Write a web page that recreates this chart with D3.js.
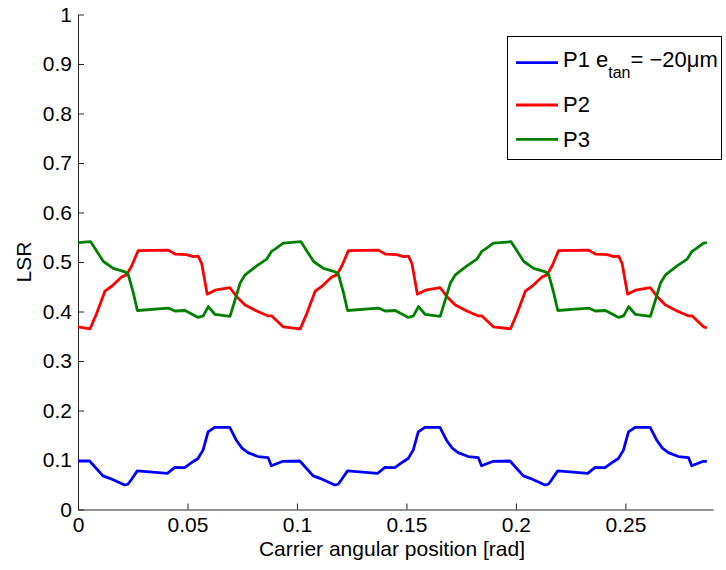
<!DOCTYPE html>
<html>
<head>
<meta charset="utf-8">
<script src="https://d3js.org/d3.v7.min.js"></script>
<style>
  body { margin: 0; background: #fff; }
  text { font-family: "Liberation Sans", Arial, Helvetica, sans-serif; fill: #000; }
</style>
</head>
<body>
<script>
// Data: [angle (rad), LSR]

const p1Data = [
  [0,.098],[.0053,.098],[.0114,.068],[.0145,.063],[.0213,.0495],[.0228,.051],[.0243,.060],[.0271,.078],
  [.0327,.076],[.0408,.073],[.0442,.085],[.0487,.0845],[.0525,.0965],[.0548,.103],[.0571,.120],[.0594,.157],
  [.0624,.166],[.0693,.166],[.0723,.140],[.0749,.124],[.0776,.115],[.0822,.107],[.0868,.105],[.0883,.0885],
  [.0936,.0974],
  [.1013,.098],[.1074,.068],[.1105,.063],[.1173,.0495],[.1188,.051],[.1203,.060],[.1231,.078],
  [.1287,.076],[.1368,.073],[.1402,.085],[.1447,.0845],[.1485,.0965],[.1508,.103],[.1531,.120],[.1554,.157],
  [.1584,.166],[.1653,.166],[.1683,.140],[.1709,.124],[.1736,.115],[.1782,.107],[.1828,.105],[.1843,.0885],
  [.1896,.0974],
  [.1973,.098],[.2034,.068],[.2065,.063],[.2133,.0495],[.2148,.051],[.2163,.060],[.2191,.078],
  [.2247,.076],[.2328,.073],[.2362,.085],[.2407,.0845],[.2445,.0965],[.2468,.103],[.2491,.120],[.2514,.157],
  [.2544,.166],[.2613,.166],[.2643,.140],[.2669,.124],[.2696,.115],[.2742,.107],[.2788,.105],[.2803,.0885],
  [.2856,.0974],[.2872,.0974]
];

const p2Data = [
  [0,.369],[.0055,.365],[.0085,.396],[.0123,.441],[.0154,.451],[.0200,.470],[.0222,.474],[.0245,.492],
  [.0275,.523],[.0412,.524],[.0443,.516],[.0496,.515],[.0527,.511],[.0549,.512],[.0565,.497],[.0590,.435],
  [.0626,.443],[.0694,.448],[.0725,.430],[.0763,.413],[.0816,.401],[.0869,.391],[.0885,.391],[.0937,.369],
  [.1015,.365],[.1045,.396],[.1083,.441],[.1114,.451],[.1160,.470],[.1182,.474],[.1205,.492],
  [.1235,.523],[.1372,.524],[.1403,.516],[.1456,.515],[.1487,.511],[.1509,.512],[.1525,.497],[.1550,.435],
  [.1586,.443],[.1654,.448],[.1685,.430],[.1723,.413],[.1776,.401],[.1829,.391],[.1845,.391],[.1897,.369],
  [.1975,.365],[.2005,.396],[.2043,.441],[.2074,.451],[.2120,.470],[.2142,.474],[.2165,.492],
  [.2195,.523],[.2332,.524],[.2363,.516],[.2416,.515],[.2447,.511],[.2469,.512],[.2485,.497],[.2510,.435],
  [.2546,.443],[.2614,.448],[.2645,.430],[.2683,.413],[.2736,.401],[.2789,.391],[.2805,.391],[.2857,.369],
  [.2872,.367]
];

const p3Data = [
  [0,.539],[.0058,.541],[.0116,.501],[.0161,.487],[.0215,.480],[.0230,.474],[.0253,.437],[.0271,.402],
  [.0412,.407],[.0443,.401],[.0489,.402],[.0519,.395],[.0549,.388],[.0572,.391],[.0595,.410],[.0626,.394],
  [.0694,.390],[.0717,.423],[.0740,.457],[.0763,.474],[.0816,.492],[.0862,.506],[.0885,.522],[.0900,.526],
  [.0937,.538],
  [.1018,.541],[.1076,.501],[.1121,.487],[.1175,.480],[.1190,.474],[.1213,.437],[.1231,.402],
  [.1372,.407],[.1403,.401],[.1449,.402],[.1479,.395],[.1509,.388],[.1532,.391],[.1555,.410],[.1586,.394],
  [.1654,.390],[.1677,.423],[.1700,.457],[.1723,.474],[.1776,.492],[.1822,.506],[.1845,.522],[.1860,.526],
  [.1897,.538],
  [.1978,.541],[.2036,.501],[.2081,.487],[.2135,.480],[.2150,.474],[.2173,.437],[.2191,.402],
  [.2332,.407],[.2363,.401],[.2409,.402],[.2439,.395],[.2469,.388],[.2492,.391],[.2515,.410],[.2546,.394],
  [.2614,.390],[.2637,.423],[.2660,.457],[.2683,.474],[.2736,.492],[.2782,.506],[.2805,.522],[.2820,.526],
  [.2857,.538],[.2872,.539]
];

const seriesNames = ["P1", "P2", "P3"];
const seriesColors = ["#0000ff", "#ff0000", "#008000"];
const xTicks = [0, 0.05, 0.1, 0.15, 0.2, 0.25];
const yTicks = [0, 0.1, 0.2, 0.3, 0.4, 0.5, 0.6, 0.7, 0.8, 0.9, 1];

// Plot box
const plotLeft = 78, plotRight = 713, plotTop = 14.5, plotBottom = 509.5;
const fontSize = 21;

const svg = d3.select("body")
    .append("svg")
    .attr("width", 726)
    .attr("height", 570);

const x = d3.scaleLinear().domain([0, 0.29]).range([plotLeft, plotRight]);
const y = d3.scaleLinear().domain([0, 1]).range([plotBottom, plotTop]);

const fmt = d => String(+d.toFixed(2));

// x axis, ticks pointing inward
const xAxis = svg.append("g")
    .attr("transform", `translate(0,${plotBottom})`)
    .call(d3.axisBottom(x).tickValues(xTicks).tickFormat(fmt)
        .tickSizeInner(-6).tickSizeOuter(0).tickPadding(8));

// y axis
const yAxis = svg.append("g")
    .attr("transform", `translate(${plotLeft},0)`)
    .call(d3.axisLeft(y).tickValues(yTicks).tickFormat(fmt)
        .tickSizeInner(-6).tickSizeOuter(0).tickPadding(6));

[xAxis, yAxis].forEach(a => {
    a.select(".domain").attr("stroke", "#262626").attr("stroke-width", 1);
    a.selectAll(".tick line").attr("stroke", "#262626");
    a.selectAll("text").style("font-size", fontSize + "px").attr("fill", "#000");
});

// axis labels
svg.append("text")
    .attr("x", 392)
    .attr("y", 556)
    .attr("text-anchor", "middle")
    .style("font-size", fontSize + "px")
    .text("Carrier angular position [rad]");

svg.append("text")
    .attr("transform", `translate(31,${(plotTop + plotBottom) / 2}) rotate(-90)`)
    .attr("text-anchor", "middle")
    .style("font-size", fontSize + "px")
    .text("LSR");

// curves
const line = d3.line()
    .x(d => x(d[0]))
    .y(d => y(d[1]));

[p1Data, p2Data, p3Data].forEach((data, i) => {
    svg.append("path")
        .datum(data)
        .attr("fill", "none")
        .attr("stroke", seriesColors[i])
        .attr("stroke-width", 2.8)
        .attr("stroke-linejoin", "round")
        .attr("d", line);
});

// legend
const legend = svg.append("g");

legend.append("rect")
    .attr("x", 507.5)
    .attr("y", 36.5)
    .attr("width", 214)
    .attr("height", 123)
    .attr("fill", "#fff")
    .attr("stroke", "#000")
    .attr("stroke-width", 1);

const legendLineY = [62.7, 105, 139.3];
const legendTextY = [66.7, 111.7, 147.3];

seriesNames.forEach((name, i) => {
    legend.append("line")
        .attr("x1", 516).attr("x2", 558)
        .attr("y1", legendLineY[i]).attr("y2", legendLineY[i])
        .attr("stroke", seriesColors[i])
        .attr("stroke-width", 2.8);

    const t = legend.append("text")
        .attr("x", 563)
        .attr("y", legendTextY[i])
        .style("font-size", "22px");

    if (i === 0) {
        t.append("tspan").text(name + " e");
        t.append("tspan").attr("dy", 11).style("font-size", "16px").text("tan");
        t.append("tspan").attr("dy", -11).text("= \u221220\u03bcm");
    } else {
        t.text(name);
    }
});
</script>
</body>
</html>
